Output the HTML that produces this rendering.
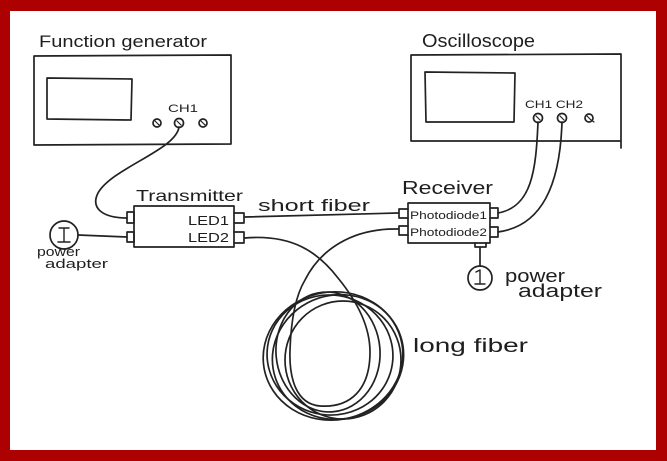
<!DOCTYPE html>
<html><head><meta charset="utf-8"><style>
html,body{margin:0;padding:0;background:#b00000;}
svg{display:block;}
text{font-family:"Liberation Sans",sans-serif;fill:#1e1e1e;}
</style></head><body>
<svg width="667" height="461" viewBox="0 0 667 461" xmlns="http://www.w3.org/2000/svg">
<rect x="0" y="0" width="667" height="461" fill="#ad0000"/>
<rect x="10" y="11" width="646" height="439" fill="#ffffff"/>
<g fill="none" stroke="#222" stroke-width="1.7" stroke-linecap="round" stroke-linejoin="round">
<!-- Function generator -->
<path d="M34,56 L231,55 L231,144 L34,145 Z"/>
<path d="M47,78 L132,79 L131,120 L47,119 Z"/>
<circle cx="157" cy="123" r="4"/><circle cx="179" cy="123" r="4.5"/><circle cx="203" cy="123" r="4"/>
<path d="M155,121 l4,4 M177,121 l4,4 M201,121 l4,4" stroke-width="1.2"/>
<!-- Oscilloscope -->
<path d="M411,55 L621,54 L621,148 M621,141 L411,141 L411,55"/>
<path d="M425,72 L515,73 L514,122 L426,122 Z"/>
<circle cx="538" cy="118" r="4.5"/><circle cx="562" cy="118" r="4.5"/><circle cx="589" cy="118" r="4"/>
<path d="M536,116 l4,4 M560,116 l4,4 M587,116 l4,4 l3,2" stroke-width="1.2"/>
<!-- Transmitter -->
<rect x="134" y="206" width="100" height="41"/>
<rect x="127" y="212" width="7" height="11"/>
<rect x="127" y="232" width="7" height="10"/>
<path d="M234,213 h10 v10 h-10 M234,232 h10 v11 h-10"/>
<!-- Receiver -->
<rect x="408" y="203" width="82" height="40"/>
<path d="M408,209 h-9 v9 h9 M408,226 h-9 v9 h9"/>
<path d="M490,208 h8 v10 h-8 M490,227 h8 v10 h-8"/>
<path d="M475,243 v4 h11 v-4"/>
<!-- cables -->
<path d="M179,127 C176,150 112,168 98,193 C90,209 104,218 127,218"/>
<path d="M538,122 C536,170 532,207 498,213"/>
<path d="M562,122 C560,185 542,226 498,232"/>
<path d="M245,217 L398,213"/>
<path d="M78,235 L127,237"/>
<circle cx="64" cy="235" r="14"/>
<path d="M59,228 h10 M64,228 v13 M58,242 h12" stroke-width="1.4"/>
<path d="M480,248 L480,266"/>
<circle cx="480" cy="278" r="12"/>
<path d="M476,272 l4,-2 v13 M475,284 h10" stroke-width="1.4"/>
<!-- long fiber -->
<path d="M245,238 C292,234 318,252 338,278 C356,300 370,325 370,352 C370,390 350,408 320,406 C296,404 289,378 290,350 C291,320 296,295 305,280 C320,250 352,228 398,229"/>
<ellipse cx="333" cy="356" rx="70" ry="64" transform="rotate(-10 333 356)"/>
<ellipse cx="338" cy="357" rx="66" ry="62" transform="rotate(-18 338 357)"/>
<ellipse cx="330" cy="355" rx="63" ry="60" transform="rotate(8 330 355)"/>
<ellipse cx="343" cy="360" rx="58" ry="59"/>
<ellipse cx="328" cy="352" rx="52" ry="60" transform="rotate(-5 328 352)"/>
</g>
<g>
<text x="39" y="47" font-size="17" textLength="168" lengthAdjust="spacingAndGlyphs">Function generator</text>
<text x="422" y="47" font-size="18" textLength="113" lengthAdjust="spacingAndGlyphs">Oscilloscope</text>
<text x="168" y="112" font-size="11" textLength="30" lengthAdjust="spacingAndGlyphs">CH1</text>
<text x="525" y="108" font-size="11" textLength="58" lengthAdjust="spacingAndGlyphs">CH1 CH2</text>
<text x="136" y="201" font-size="16" textLength="107" lengthAdjust="spacingAndGlyphs">Transmitter</text>
<text x="188" y="225" font-size="13" textLength="41" lengthAdjust="spacingAndGlyphs">LED1</text>
<text x="188" y="242" font-size="13" textLength="41" lengthAdjust="spacingAndGlyphs">LED2</text>
<text x="258" y="211" font-size="17" textLength="112" lengthAdjust="spacingAndGlyphs">short fiber</text>
<text x="402" y="194" font-size="18" textLength="91" lengthAdjust="spacingAndGlyphs">Receiver</text>
<text x="410" y="219" font-size="11" textLength="77" lengthAdjust="spacingAndGlyphs">Photodiode1</text>
<text x="410" y="236" font-size="11" textLength="77" lengthAdjust="spacingAndGlyphs">Photodiode2</text>
<text x="37" y="256" font-size="13" textLength="43" lengthAdjust="spacingAndGlyphs">power</text>
<text x="45" y="268" font-size="13" textLength="63" lengthAdjust="spacingAndGlyphs">adapter</text>
<text x="505" y="282" font-size="18" textLength="60" lengthAdjust="spacingAndGlyphs">power</text>
<text x="518" y="297" font-size="18" textLength="84" lengthAdjust="spacingAndGlyphs">adapter</text>
<text x="413" y="352" font-size="19" textLength="115" lengthAdjust="spacingAndGlyphs">long fiber</text>
</g>
</svg>
</body></html>
